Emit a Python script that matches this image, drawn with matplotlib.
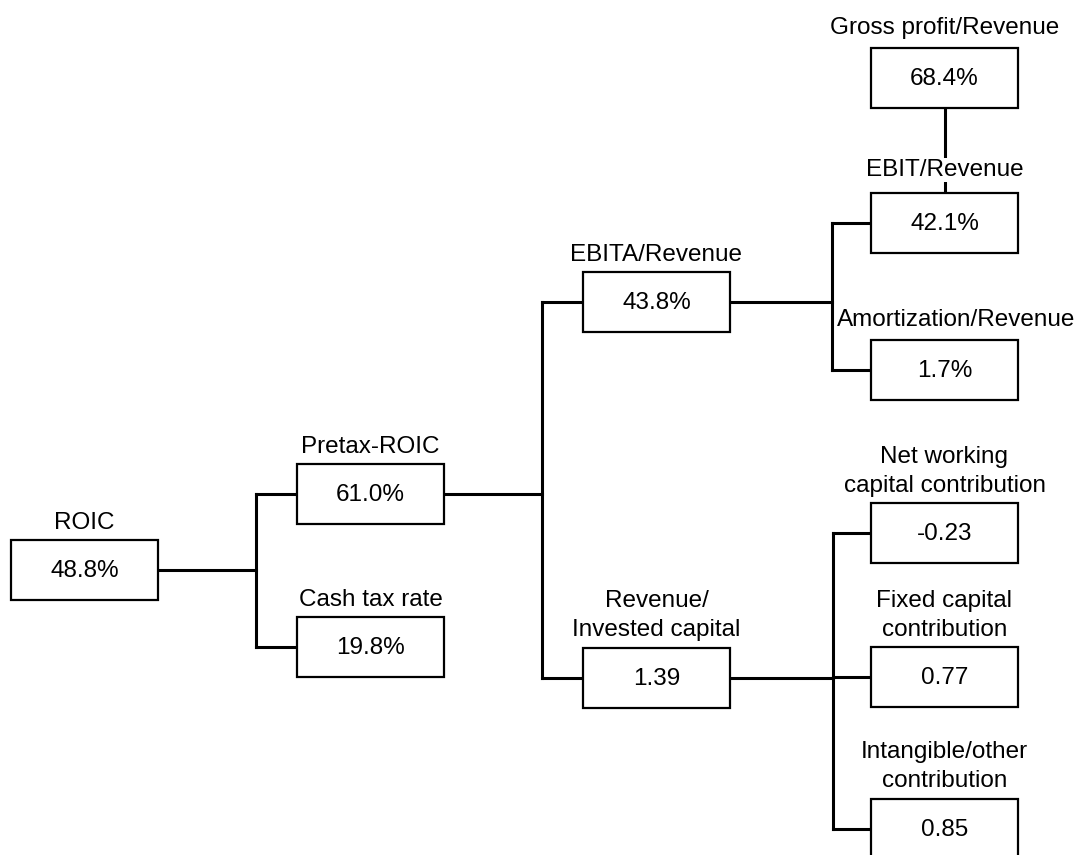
import matplotlib
matplotlib.use("Agg")
import matplotlib.pyplot as plt
import matplotlib.patches as mpatches

plt.rcParams['font.family'] = ['Liberation Sans', 'DejaVu Sans']

# node texts
labels = ["ROIC", "Pretax-ROIC", "Cash tax rate", "EBITA/Revenue",
          "Revenue/\nInvested capital", "Gross profit/Revenue", "EBIT/Revenue",
          "Amortization/Revenue", "Net working\ncapital contribution",
          "Fixed capital\ncontribution", "Intangible/other\ncontribution"]
values = ["48.8%", "61.0%", "19.8%", "43.8%", "1.39", "68.4%", "42.1%",
          "1.7%", "-0.23", "0.77", "0.85"]

# tree: parent -> children
children = {0: [1, 2], 1: [3, 4], 3: [6, 7], 4: [8, 9, 10]}
# gross profit sits on top of EBIT
stacked = [(5, 6)]

# layout (pixels, y downwards)
box_x = [11, 297, 297, 583, 583, 871, 871, 871, 871, 871, 871]
box_cy = [570, 494, 647, 302, 678, 78, 223, 370, 533, 677, 829]
box_w, box_h = 147, 60
label_gap = [6, 6, 6, 6, 7, 9, 12, 9, 6, 6, 7]
label_dx = [0, 0, 0, 0, 0, 0, 0, 12, 0, 0, 0]
branch_x = {0: 256, 1: 542, 3: 832, 4: 833}

fig = plt.figure(figsize=(10.84, 8.55), dpi=100)
ax = fig.add_axes([0, 0, 1, 1])
ax.set_xlim(0, 1084)
ax.set_ylim(855, 0)
ax.axis('off')

fs = 17.5
lw_line = 2.2

for p, kids in children.items():
    bx = branch_x[p]
    ax.plot([box_x[p] + box_w, bx], [box_cy[p], box_cy[p]], color='black', lw=lw_line, zorder=1)
    ys = [box_cy[k] for k in kids]
    ax.plot([bx, bx], [min(ys), max(ys)], color='black', lw=lw_line, zorder=1,
            solid_capstyle='projecting')
    for k in kids:
        ax.plot([bx, box_x[k]], [box_cy[k], box_cy[k]], color='black', lw=lw_line, zorder=1)

for top, bottom in stacked:
    cx = box_x[top] + box_w / 2
    ax.plot([cx, cx], [box_cy[top] + box_h / 2, box_cy[bottom] - box_h / 2],
            color='black', lw=lw_line, zorder=1)

for i in range(len(labels)):
    x0 = box_x[i]
    y0 = box_cy[i] - box_h / 2
    rect = mpatches.Rectangle((x0, y0), box_w, box_h, facecolor='white',
                              edgecolor='black', lw=1.6, zorder=2)
    ax.add_patch(rect)
    ax.text(x0 + box_w / 2, box_cy[i] + 1, values[i], ha='center', va='center',
            fontsize=fs, zorder=3)
    bg = None
    if any(i == b for _, b in stacked):
        bg = dict(facecolor='white', edgecolor='none', pad=1)
    ax.text(x0 + box_w / 2 + label_dx[i], y0 - label_gap[i], labels[i],
            ha='center', va='bottom', fontsize=fs, linespacing=1.42, zorder=3,
            bbox=bg)

fig.savefig("out.png", dpi=100)
